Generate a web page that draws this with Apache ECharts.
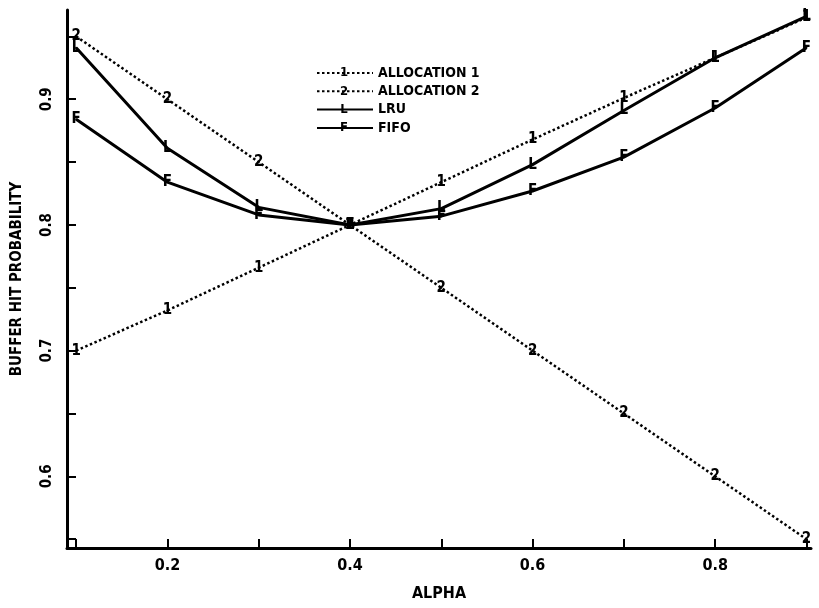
<!DOCTYPE html>
<html>
<head>
<meta charset="utf-8">
<script src="https://cdn.jsdelivr.net/npm/echarts@6/dist/echarts.min.js"></script>
<style>
html,body{margin:0;padding:0;background:#fff;}
#chart{width:819px;height:608px;}
</style>
</head>
<body>
<div id="chart"></div>
<script>
const alpha = [0.1, 0.2, 0.3, 0.4, 0.5, 0.6, 0.7, 0.8, 0.9];
const allocation1 = [0.700, 0.732, 0.766, 0.800, 0.834, 0.868, 0.901, 0.933, 0.965];
const allocation2 = [0.950, 0.900, 0.850, 0.800, 0.750, 0.700, 0.650, 0.600, 0.550];
const lru = [0.941, 0.861, 0.814, 0.800, 0.813, 0.848, 0.891, 0.933, 0.966];
const fifo = [0.884, 0.834, 0.808, 0.800, 0.807, 0.827, 0.854, 0.893, 0.941];
const seriesNames = ['ALLOCATION 1', 'ALLOCATION 2', 'LRU', 'FIFO'];
const seriesGlyphs = ['1', '2', 'L', 'F'];
const xTicks = [0.1, 0.2, 0.3, 0.4, 0.5, 0.6, 0.7, 0.8, 0.9];
const xTickLabels = [0.2, 0.4, 0.6, 0.8];
const yTicks = [0.55, 0.6, 0.65, 0.7, 0.75, 0.8, 0.85, 0.9, 0.95];
const yTickLabels = [0.6, 0.7, 0.8, 0.9];

const FONT = '"DejaVu Sans Condensed", "Liberation Sans", Arial, sans-serif';
const values = [allocation1, allocation2, lru, fifo];
const dotted = [true, true, false, false];

const chart = echarts.init(document.getElementById('chart'));
const series = values.map((vals, i) => ({
  name: seriesNames[i],
  type: 'line',
  data: alpha.map((a, j) => [a, vals[j]]),
  symbol: 'circle',
  symbolSize: 2,
  showSymbol: true,
  animation: false,
  itemStyle: {color: '#000'},
  lineStyle: dotted[i]
    ? {color: '#000', width: 2.5, type: [2.5, 2.5], cap: 'butt'}
    : {color: '#000', width: 3},
  label: {
    show: true,
    position: 'inside',
    formatter: seriesGlyphs[i],
    color: '#000',
    fontFamily: FONT,
    fontWeight: 'bold',
    fontSize: 15
  },
  emphasis: {disabled: true}
}));

const LEGEND_TOP = 66;
const LEGEND_ROW = 18.3;
const LEGEND_LEFT = 316;
const legendGlyphs = seriesGlyphs.map((g, i) => ({
  type: 'text',
  x: LEGEND_LEFT + 28,
  y: LEGEND_TOP + 7 + i * LEGEND_ROW,
  z: 100,
  style: {text: g, fill: '#000', font: 'bold 13px ' + FONT, align: 'center', verticalAlign: 'middle'}
}));

chart.setOption({
  animation: false,
  backgroundColor: '#fff',
  grid: {left: 67, right: 8, top: 10, bottom: 60, containLabel: false},
  legend: {
    orient: 'vertical',
    left: LEGEND_LEFT,
    top: LEGEND_TOP,
    itemWidth: 56,
    itemHeight: 14,
    itemGap: LEGEND_ROW - 14,
    padding: 0,
    itemStyle: {opacity: 0},
    textStyle: {color: '#000', fontFamily: FONT, fontWeight: 'bold', fontSize: 14},
    data: seriesNames
  },
  graphic: legendGlyphs,
  xAxis: {
    type: 'value',
    min: 0.09,
    max: 0.905,
    name: 'ALPHA',
    nameLocation: 'middle',
    nameGap: 38,
    nameTextStyle: {color: '#000', fontFamily: FONT, fontWeight: 'bold', fontSize: 16},
    axisLine: {show: true, onZero: false, lineStyle: {color: '#000', width: 3}},
    axisTick: {show: true, inside: true, length: 9, lineStyle: {color: '#000', width: 2}, customValues: xTicks},
    axisLabel: {show: true, customValues: xTickLabels, color: '#000', fontFamily: FONT, fontWeight: 'bold', fontSize: 16, margin: 10,
      formatter: v => v.toFixed(1)},
    splitLine: {show: false}
  },
  yAxis: {
    type: 'value',
    min: 0.543,
    max: 0.971,
    name: 'BUFFER HIT PROBABILITY',
    nameLocation: 'middle',
    nameRotate: 90,
    nameGap: 42,
    nameTextStyle: {color: '#000', fontFamily: FONT, fontWeight: 'bold', fontSize: 15},
    axisLine: {show: true, onZero: false, lineStyle: {color: '#000', width: 3}},
    axisTick: {show: true, inside: true, length: 9, lineStyle: {color: '#000', width: 2}, customValues: yTicks},
    axisLabel: {show: true, customValues: yTickLabels, rotate: 90, color: '#000', fontFamily: FONT, fontWeight: 'bold', fontSize: 15, margin: 12,
      formatter: v => v.toFixed(1)},
    splitLine: {show: false}
  },
  series: series
});
</script>
</body>
</html>
